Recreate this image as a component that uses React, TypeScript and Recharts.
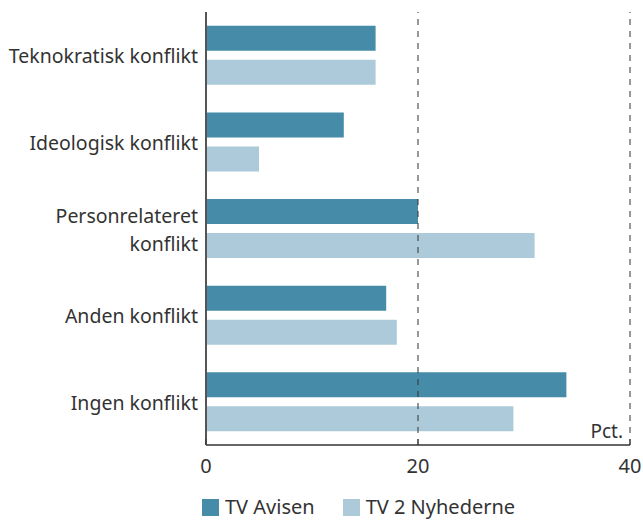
import { BarChart, Bar, XAxis, YAxis, ReferenceLine, Legend } from 'recharts';

const categories = [
  'Teknokratisk konflikt',
  'Ideologisk konflikt',
  'Personrelateret konflikt',
  'Anden konflikt',
  'Ingen konflikt',
];
const tvAvisen = [16, 13, 20, 17, 34];
const tv2Nyhederne = [16, 5, 31, 18, 29];
const xTicks = [0, 20, 40];

const data = categories.map((name, i) => ({
  name,
  tvAvisen: tvAvisen[i],
  tv2: tv2Nyhederne[i],
}));

const FONT = '"Noto Sans", sans-serif';
const DARK = '#468ca8';
const LIGHT = '#adcadb';
const INK = '#333';

function CategoryTick({ x, y, payload }: any) {
  const text: string = payload.value;
  let lines = [text];
  if (text.length > 22) {
    const cut = text.lastIndexOf(' ');
    lines = [text.slice(0, cut), text.slice(cut + 1)];
  }
  const lh = 28;
  const start = y - ((lines.length - 1) * lh) / 2;
  return (
    <text x={x} y={start} textAnchor="end" dominantBaseline="central" fill={INK} fontSize={19.5} fontFamily={FONT}>
      {lines.map((l, i) => (
        <tspan key={i} x={x} y={start + i * lh}>
          {l}
        </tspan>
      ))}
    </text>
  );
}

function ValueTick({ x, y, payload }: any) {
  return (
    <g>
      <line x1={x} x2={x} y1={y - 6} y2={y} stroke={INK} strokeWidth={1} />
      <text x={x} y={y + 20} textAnchor="middle" dominantBaseline="central" fill={INK} fontSize={20} fontFamily={FONT}>
        {payload.value}
      </text>
    </g>
  );
}

function LegendContent() {
  const items = [
    { label: 'TV Avisen', color: DARK },
    { label: 'TV 2 Nyhederne', color: LIGHT },
  ];
  return (
    <div style={{ display: 'flex', paddingLeft: 202, paddingTop: 6, height: 22, alignItems: 'center' }}>
      {items.map((it) => (
        <div key={it.label} style={{ display: 'flex', alignItems: 'center', marginRight: 28 }}>
          <span style={{ width: 17, height: 17, background: it.color, display: 'inline-block', marginRight: 6 }} />
          <span style={{ fontSize: 20, lineHeight: '22px', fontFamily: FONT, color: INK }}>{it.label}</span>
        </div>
      ))}
    </div>
  );
}

export default function App() {
  return (
    <div style={{ position: 'absolute', left: 0, top: 0, width: 643, height: 520, background: '#fff' }}>
      <BarChart
        width={643}
        height={520}
        data={data}
        layout="vertical"
        margin={{ top: 12, right: 13, bottom: 0, left: 0 }}
        barCategoryGap="16%"
        barGap={9}
      >
        <XAxis
          type="number"
          domain={[0, 40]}
          ticks={xTicks}
          height={45}
          axisLine={{ stroke: INK, strokeWidth: 1.5 }}
          tickLine={false}
          tickSize={0}
          tickMargin={0}
          tick={<ValueTick />}
        />
        <YAxis
          type="category"
          dataKey="name"
          width={206}
          axisLine={{ stroke: '#555', strokeWidth: 2 }}
          tickLine={false}
          tickSize={0}
          tickMargin={8}
          tick={<CategoryTick />}
        />
        <ReferenceLine x={20} stroke={INK} strokeDasharray="6 6" />
        <ReferenceLine
          x={40}
          stroke={INK}
          strokeDasharray="6 6"
          label={{ value: 'Pct.', position: 'insideBottomRight', offset: 7, fill: INK, fontSize: 19, fontFamily: FONT }}
        />
        <Bar dataKey="tvAvisen" name="TV Avisen" fill={DARK} isAnimationActive={false} />
        <Bar dataKey="tv2" name="TV 2 Nyhederne" fill={LIGHT} isAnimationActive={false} />
        <Legend content={<LegendContent />} verticalAlign="bottom" height={30} wrapperStyle={{ left: 0, width: 643 }} />
      </BarChart>
    </div>
  );
}
